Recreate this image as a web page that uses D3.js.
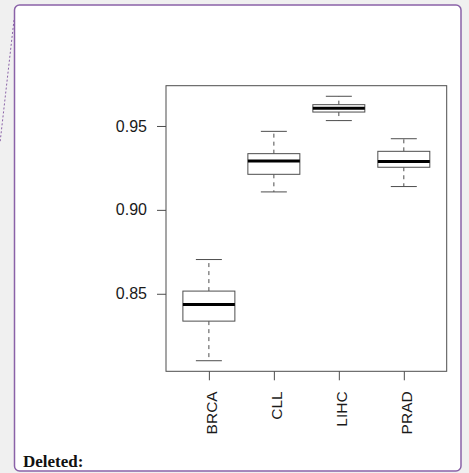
<!DOCTYPE html>
<html>
<head>
<meta charset="utf-8">
<script src="https://cdn.jsdelivr.net/npm/d3@7"></script>
<style>
  html, body { margin: 0; padding: 0; background: #f0f0f0; }
  svg { display: block; }
</style>
</head>
<body>
<svg id="chart" width="469" height="473"></svg>
<script>
// Box-plot summaries per cancer type
const categories    = ["BRCA", "CLL", "LIHC", "PRAD"];
const lowerWhisker  = [0.8101, 0.9107, 0.9532, 0.9139];
const quartile1     = [0.8337, 0.9212, 0.9583, 0.9254];
const medians       = [0.8436, 0.9292, 0.9605, 0.9288];
const quartile3     = [0.8516, 0.9335, 0.9627, 0.9349];
const upperWhisker  = [0.8704, 0.9468, 0.9677, 0.9424];
const yTickValues   = [0.85, 0.90, 0.95];

const boxes = categories.map((c, i) => ({
  name: c, pos: i + 1,
  lo: lowerWhisker[i], q1: quartile1[i], med: medians[i],
  q3: quartile3[i], hi: upperWhisker[i]
}));

const svg = d3.select("#chart");
const lineColor = "#4d4d4d";

// comment-balloon frame and its connector
svg.append("line")
  .attr("x1", 14).attr("y1", 20).attr("x2", 0).attr("y2", 143)
  .attr("stroke", "#8a62a8").attr("stroke-width", 1)
  .attr("stroke-dasharray", "2,2");
svg.append("rect")
  .attr("x", 14.5).attr("y", 5).attr("width", 446.5).attr("height", 466)
  .attr("rx", 5).attr("ry", 5)
  .attr("fill", "#ffffff").attr("stroke", "#8a62a8").attr("stroke-width", 1.5);

svg.append("text")
  .attr("x", 23).attr("y", 466.5)
  .attr("font-family", "'Liberation Serif', 'Times New Roman', serif")
  .attr("font-weight", "bold").attr("font-size", 17)
  .attr("fill", "#111")
  .text("Deleted:");

// plot region
const plotLeft = 166, plotRight = 446.7, plotTop = 85.7, plotBottom = 371.3;

const yMin = d3.min(lowerWhisker), yMax = d3.max(upperWhisker);
const pad = (yMax - yMin) * 0.04;
const y = d3.scaleLinear().domain([yMin - pad, yMax + pad]).range([plotBottom, plotTop]);

const n = categories.length;
const xPad = n * 0.04;
const x = d3.scaleLinear().domain([0.5 - xPad, n + 0.5 + xPad]).range([plotLeft, plotRight]);

const boxHalf = x(1.4) - x(1);   // box width 0.8 units
const capHalf = x(1.2) - x(1);   // staple width 0.4 units

const g = svg.append("g");

// whiskers
g.selectAll("line.whisk-up").data(boxes).join("line")
  .attr("class", "whisk-up")
  .attr("x1", d => x(d.pos)).attr("x2", d => x(d.pos))
  .attr("y1", d => y(d.q3)).attr("y2", d => y(d.hi))
  .attr("stroke", lineColor).attr("stroke-width", 1)
  .attr("stroke-dasharray", "4,4");
g.selectAll("line.whisk-dn").data(boxes).join("line")
  .attr("class", "whisk-dn")
  .attr("x1", d => x(d.pos)).attr("x2", d => x(d.pos))
  .attr("y1", d => y(d.q1)).attr("y2", d => y(d.lo))
  .attr("stroke", lineColor).attr("stroke-width", 1)
  .attr("stroke-dasharray", "4,4");

// staples
["hi", "lo"].forEach(k => {
  g.selectAll("line.cap-" + k).data(boxes).join("line")
    .attr("class", "cap-" + k)
    .attr("x1", d => x(d.pos) - capHalf).attr("x2", d => x(d.pos) + capHalf)
    .attr("y1", d => y(d[k])).attr("y2", d => y(d[k]))
    .attr("stroke", lineColor).attr("stroke-width", 1);
});

// boxes
g.selectAll("rect.box").data(boxes).join("rect")
  .attr("class", "box")
  .attr("x", d => x(d.pos) - boxHalf)
  .attr("width", 2 * boxHalf)
  .attr("y", d => y(d.q3))
  .attr("height", d => y(d.q1) - y(d.q3))
  .attr("fill", "#ffffff").attr("stroke", lineColor).attr("stroke-width", 1);

// medians
g.selectAll("line.med").data(boxes).join("line")
  .attr("class", "med")
  .attr("x1", d => x(d.pos) - boxHalf).attr("x2", d => x(d.pos) + boxHalf)
  .attr("y1", d => y(d.med)).attr("y2", d => y(d.med))
  .attr("stroke", "#000").attr("stroke-width", 3);

// frame
svg.append("rect")
  .attr("x", plotLeft).attr("y", plotTop)
  .attr("width", plotRight - plotLeft).attr("height", plotBottom - plotTop)
  .attr("fill", "none").attr("stroke", lineColor).attr("stroke-width", 1);

// y axis
const yAxis = d3.axisLeft(y).tickValues(yTickValues)
  .tickFormat(d3.format(".2f")).tickSize(9).tickPadding(10);
const ya = svg.append("g").attr("transform", `translate(${plotLeft},0)`).call(yAxis);
ya.select(".domain").remove();
ya.selectAll("line").attr("stroke", lineColor);
ya.selectAll("text")
  .attr("font-family", "'Liberation Sans', Arial, sans-serif")
  .attr("font-size", 16).attr("fill", "#1a1a1a");

// x axis with vertical labels
const xAxis = d3.axisBottom(x).tickValues(boxes.map(d => d.pos))
  .tickFormat((d, i) => categories[i]).tickSize(9).tickPadding(0);
const xa = svg.append("g").attr("transform", `translate(0,${plotBottom})`).call(xAxis);
xa.select(".domain").remove();
xa.selectAll("line").attr("stroke", lineColor);
xa.selectAll("text")
  .attr("font-family", "'Liberation Sans', Arial, sans-serif")
  .attr("font-size", 15.5).attr("fill", "#1a1a1a")
  .attr("text-anchor", "end")
  .attr("dy", "0.52em")
  .attr("y", 0).attr("x", 0)
  .attr("transform", "translate(0,20) rotate(-90)");
</script>
</body>
</html>
